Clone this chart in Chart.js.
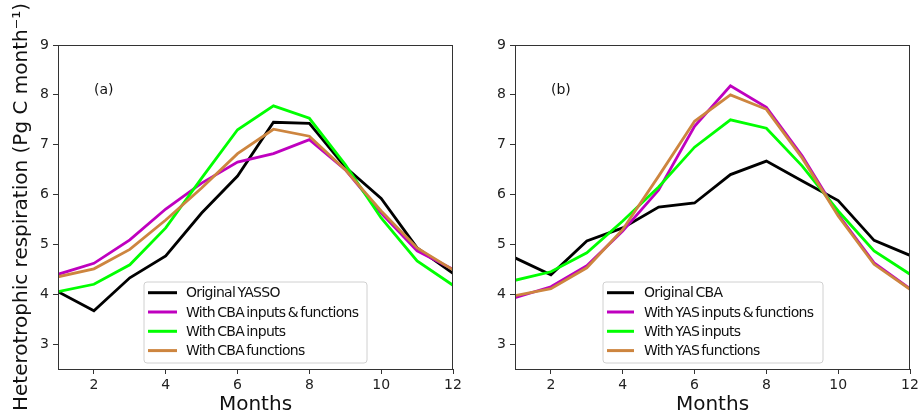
<!DOCTYPE html>
<html><head><meta charset="utf-8">
<script src="https://cdn.jsdelivr.net/npm/chart.js@4.4.0/dist/chart.umd.min.js"></script>
<style>
html,body{margin:0;padding:0;background:#fff;}
#wrap{position:relative;width:919px;height:417px;overflow:hidden;background:#fff;}
#c1{position:absolute;left:0;top:0;}
#c2{position:absolute;left:460px;top:0;}
</style></head><body>
<div id="wrap"><canvas id="c1" width="472" height="417"></canvas><canvas id="c2" width="459" height="417"></canvas></div>
<script>
// ---- data ----
const months = [1,2,3,4,5,6,7,8,9,10,11,12];
const xTicks = [2,4,6,8,10,12];
const yTicks = [3,4,5,6,7,8,9];
const yTitle = 'Heterotrophic respiration (Pg C month\u207B\u00B9)';
const xTitle = 'Months';

// panel (a)
const aLabels = ['Original YASSO','With CBA inputs & functions','With CBA inputs','With CBA functions'];
const aOriginal = [4.05,3.67,4.33,4.77,5.63,6.37,7.45,7.43,6.55,5.92,4.93,4.42];
const aInputsFunctions = [4.40,4.62,5.09,5.71,6.23,6.65,6.82,7.10,6.50,5.63,4.87,4.50];
const aInputs = [4.05,4.20,4.59,5.33,6.33,7.30,7.78,7.53,6.60,5.53,4.67,4.18];
const aFunctions = [4.35,4.51,4.90,5.49,6.13,6.82,7.31,7.17,6.50,5.67,4.93,4.49];

// panel (b)
const bLabels = ['Original CBA','With YAS inputs & functions','With YAS inputs','With YAS functions'];
const bOriginal = [4.73,4.39,5.07,5.33,5.75,5.83,6.40,6.67,6.27,5.88,5.08,4.78];
const bInputsFunctions = [3.93,4.15,4.57,5.27,6.09,7.37,8.18,7.75,6.77,5.60,4.63,4.11];
const bInputs = [4.28,4.45,4.83,5.47,6.15,6.95,7.50,7.33,6.57,5.67,4.87,4.40];
const bFunctions = [3.97,4.11,4.53,5.30,6.37,7.47,8.00,7.71,6.73,5.57,4.60,4.10];

const colors = ['#000000','#bf00bf','#00ff00','#cd853f'];

Chart.defaults.font.family = 'DejaVu Sans';
Chart.defaults.font.size = 14;
Chart.defaults.color = '#222';

const framePlugin = {
  id:'frame',
  afterDraw(chart){
    const {ctx, chartArea:a} = chart;
    ctx.save();
    ctx.strokeStyle = '#333'; ctx.lineWidth = 1;
    ctx.strokeRect(Math.round(a.left)+0.5, Math.round(a.top)+0.5, Math.round(a.right-a.left)-1, Math.round(a.bottom-a.top));
    ctx.restore();
  }
};

const legendPlugin = {
  id:'insideLegend',
  afterDraw(chart, args, o){
    const ctx = chart.ctx;
    ctx.save();
    const r = 3;
    ctx.beginPath();
    ctx.moveTo(o.x+r, o.y);
    ctx.lineTo(o.x+o.w-r, o.y); ctx.quadraticCurveTo(o.x+o.w, o.y, o.x+o.w, o.y+r);
    ctx.lineTo(o.x+o.w, o.y+o.h-r); ctx.quadraticCurveTo(o.x+o.w, o.y+o.h, o.x+o.w-r, o.y+o.h);
    ctx.lineTo(o.x+r, o.y+o.h); ctx.quadraticCurveTo(o.x, o.y+o.h, o.x, o.y+o.h-r);
    ctx.lineTo(o.x, o.y+r); ctx.quadraticCurveTo(o.x, o.y, o.x+r, o.y);
    ctx.closePath();
    ctx.fillStyle = 'rgba(255,255,255,0.8)'; ctx.fill();
    ctx.strokeStyle = '#d0d0d0'; ctx.lineWidth = 1; ctx.stroke();
    ctx.font = '14px "DejaVu Sans"';
    ctx.textBaseline = 'middle'; ctx.textAlign = 'left';
    if ('letterSpacing' in ctx) ctx.letterSpacing = '-0.7px';
    if ('wordSpacing' in ctx) ctx.wordSpacing = '-1.5px';
    chart.data.datasets.forEach((ds,i)=>{
      const cy = o.y + o.first + i*o.row;
      ctx.strokeStyle = ds.borderColor; ctx.lineWidth = 3;
      ctx.beginPath(); ctx.moveTo(o.x+4, cy); ctx.lineTo(o.x+4+o.lineLen, cy); ctx.stroke();
      ctx.fillStyle = '#111';
      ctx.fillText(ds.label, o.x+o.textX, cy+1);
    });
    ctx.restore();
  }
};

const panelLabelPlugin = {
  id:'panelLabel',
  afterDraw(chart, args, o){
    const ctx = chart.ctx;
    ctx.save();
    ctx.font = '14px "DejaVu Sans"'; ctx.fillStyle = '#111';
    ctx.textBaseline = 'middle'; ctx.textAlign = 'left';
    ctx.fillText(o.text, o.x, o.y);
    ctx.restore();
  }
};

function makeChart(id, labels, series, g){
  const datasets = series.map((vals,i)=>({
    label: labels[i],
    data: months.map((m,k)=>({x:m, y:vals[k]})),
    borderColor: colors[i], backgroundColor: colors[i],
    borderWidth: 2.8, pointRadius: 0, tension: 0, fill:false,
    order: 4-i
  }));
  return new Chart(document.getElementById(id), {
    type:'line',
    data:{datasets},
    plugins:[framePlugin, legendPlugin, panelLabelPlugin],
    options:{
      responsive:false, animation:false,
      layout:{padding:{left:0, top:45, right:g.padRight, bottom:0}},
      plugins:{
        legend:{display:false}, tooltip:{enabled:false},
        insideLegend: g.legend,
        panelLabel: g.label
      },
      scales:{
        x:{
          type:'linear', min:1, max:12,
          afterBuildTicks(s){ s.ticks = xTicks.map(v=>({value:v})); },
          afterFit(s){ s.height = 48; s.paddingLeft = 0; s.paddingRight = 0; },
          ticks:{padding:3, maxRotation:0, autoSkip:false, font:{size:14}, color:'#222'},
          grid:{drawOnChartArea:false, drawTicks:true, tickLength:5, tickColor:'#333'},
          border:{display:true, color:'#333'},
          title:{display:true, text:xTitle, font:{size:20}, color:'#111', padding:{top:0,bottom:0}}
        },
        y:{
          type:'linear', min:2.5, max:9,
          afterBuildTicks(s){ s.ticks = yTicks.map(v=>({value:v})); },
          afterFit(s){ s.width = g.yWidth; s.paddingTop = 0; s.paddingBottom = 0; },
          ticks:{padding:4, font:{size:14}, color:'#222'},
          grid:{drawOnChartArea:false, drawTicks:true, tickLength:5, tickColor:'#333'},
          border:{display:true, color:'#333'},
          title:{display:g.showYTitle, text:yTitle, font:{size:20}, color:'#111', padding:{top:10,bottom:0}}
        }
      }
    }
  });
}

makeChart('c1', aLabels, [aOriginal,aInputsFunctions,aInputs,aFunctions], {
  yWidth:58, padRight:19, showYTitle:true,
  legend:{x:144, y:282, w:223, h:81, first:10.7, row:19.3, lineLen:29, textX:42},
  label:{text:'(a)', x:94, y:90}
});
makeChart('c2', bLabels, [bOriginal,bInputsFunctions,bInputs,bFunctions], {
  yWidth:55, padRight:9, showYTitle:false,
  legend:{x:143, y:282, w:220, h:81, first:10.7, row:19.3, lineLen:27, textX:41},
  label:{text:'(b)', x:91, y:90}
});
</script>
</body></html>
